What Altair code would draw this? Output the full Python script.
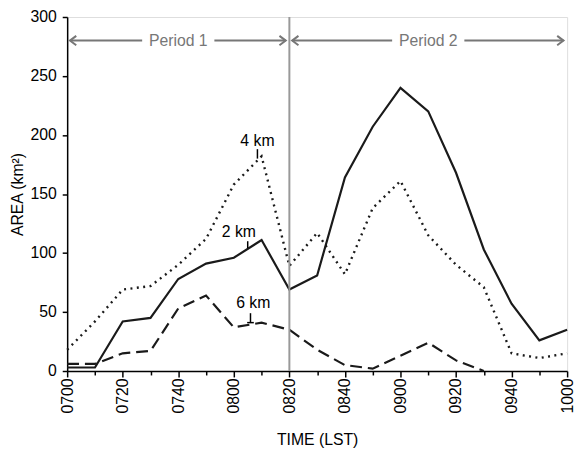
import altair as alt
import pandas as pd

# ---- data ----
TIMES = ["0700", "0710", "0720", "0730", "0740", "0750", "0800", "0810", "0820", "0830",
         "0840", "0850", "0900", "0910", "0920", "0930", "0940", "0950", "1000"]
AREA_2KM = [3, 3, 42, 45, 78, 91, 96, 111, 69, 81, 164, 207, 240, 220, 168, 103, 57, 26, 35]
AREA_4KM = [18, 42, 69, 72, 90, 112, 158, 182, 89, 117, 82, 138, 161, 115, 90, 71, 15, 11, 15]
AREA_6KM = [6, 6, 15, 17, 53, 64, 37, 41, 35, 18, 5, 2, 13, 24, 9, 0, None, None, None]
X_TICK_LABELS = ["0700", "0720", "0740", "0800", "0820", "0840", "0900", "0920", "0940", "1000"]
X_MINOR_LABELS = ["0710", "0730", "0750", "0810", "0830", "0850", "0910", "0930", "0950"]
Y_TICKS = [0, 50, 100, 150, 200, 250, 300]

PERIOD_NAMES = ["Period 1", "Period 2"]
PERIOD_START = ["0700", "0820"]
PERIOD_END = ["0820", "1000"]

LABEL_TEXT = ["4 km", "2 km", "6 km"]
LABEL_TIME = [68.5, 61.8, 67.0]      # minutes after 0700
LABEL_AREA = [195, 118, 58]
LEADER_TIME = [68.5, 65.0, 66.0]
LEADER_TOP = [188, 110, 49]
LEADER_BOTTOM = [180, 104, 41]

FONT = "Liberation Sans"


def to_min(t):
    return (int(t[:2]) - 7) * 60 + int(t[2:])


minutes = [to_min(t) for t in TIMES]

series_frames = {}
for name, vals in [("2 km", AREA_2KM), ("4 km", AREA_4KM), ("6 km", AREA_6KM)]:
    rows = [{"min": m, "area": v} for m, v in zip(minutes, vals) if v is not None]
    series_frames[name] = pd.DataFrame(rows)

x_scale = alt.Scale(domain=[0, 180], nice=False, zero=False)
y_scale = alt.Scale(domain=[0, 300], nice=False)

label_expr = "[" + ",".join("'%s'" % s for s in X_TICK_LABELS) + "][round(datum.value/20)]"

main_x_axis = alt.Axis(
    orient="bottom",
    values=[to_min(t) for t in X_TICK_LABELS], labelExpr=label_expr,
    labelAngle=270, labelAlign="right", labelBaseline="middle",
    tickSize=6, tickWidth=1.5, tickColor="black", domainColor="black", domainWidth=1.5,
    labelFont=FONT, labelFontSize=16, labelColor="black", labelPadding=1,
    title="TIME (LST)", titleFont=FONT, titleFontSize=16, titleFontWeight="normal",
    titleColor="black", titlePadding=19, grid=False,
)
minor_x_axis = alt.Axis(
    orient="bottom",
    values=[to_min(t) for t in X_MINOR_LABELS], labels=False, domain=False,
    tickSize=4, tickWidth=1.5, tickColor="black", title=None, grid=False,
)
y_axis = alt.Axis(
    orient="left",
    values=Y_TICKS, tickSize=5, tickWidth=1.5, tickColor="black",
    domainColor="black", domainWidth=1.5,
    labelFont=FONT, labelFontSize=16, labelColor="black", labelPadding=6,
    title="AREA (km²)", titleFont=FONT, titleFontSize=16, titleFontWeight="normal",
    titleColor="black", titlePadding=5, grid=False,
)

line_2 = alt.Chart(series_frames["2 km"]).mark_line(
    color="#1a1a1a", strokeWidth=2.2
).encode(
    x=alt.X("min:Q", scale=x_scale, axis=main_x_axis),
    y=alt.Y("area:Q", scale=y_scale, axis=y_axis),
)
line_4 = alt.Chart(series_frames["4 km"]).mark_line(
    color="#1a1a1a", strokeWidth=2.4, strokeDash=[2, 4.5]
).encode(
    x=alt.X("min:Q", scale=x_scale, axis=minor_x_axis),
    y=alt.Y("area:Q", scale=y_scale, axis=None),
)
line_6 = alt.Chart(series_frames["6 km"]).mark_line(
    color="#1a1a1a", strokeWidth=2.2, strokeDash=[12, 6]
).encode(
    x=alt.X("min:Q", scale=x_scale, axis=None),
    y=alt.Y("area:Q", scale=y_scale, axis=None),
)

# vertical divider between periods
divider_df = pd.DataFrame({"min": [to_min(PERIOD_END[0])], "lo": [0], "hi": [300]})
divider = alt.Chart(divider_df).mark_rule(color="#999999", strokeWidth=2).encode(
    x=alt.X("min:Q", scale=x_scale, axis=None),
    y=alt.Y("lo:Q", scale=y_scale, axis=None),
    y2="hi:Q",
)

# period arrows
ARROW_Y = 280
GAP = 13
TIP = 1.0
seg_rows, tip_l, tip_r, txt_rows = [], [], [], []
for name, s, e in zip(PERIOD_NAMES, PERIOD_START, PERIOD_END):
    a, b = to_min(s), to_min(e)
    mid = (a + b) / 2
    seg_rows.append({"x": a + TIP, "x2": mid - GAP, "y": ARROW_Y})
    seg_rows.append({"x": mid + GAP, "x2": b - TIP * 1.3, "y": ARROW_Y})
    tip_l.append({"x": a + TIP, "y": ARROW_Y})
    tip_r.append({"x": b - TIP * 1.3, "y": ARROW_Y})
    txt_rows.append({"x": mid, "y": ARROW_Y, "t": name})

arrow_color = "#777777"
segs = alt.Chart(pd.DataFrame(seg_rows)).mark_rule(color=arrow_color, strokeWidth=2).encode(
    x=alt.X("x:Q", scale=x_scale, axis=None), x2="x2:Q",
    y=alt.Y("y:Q", scale=y_scale, axis=None),
)
heads_l = alt.Chart(pd.DataFrame(tip_l)).mark_point(
    shape="M1.6,-1.2L0,0L1.6,1.2", size=64, filled=False, color=arrow_color,
    strokeWidth=2, opacity=1,
).encode(
    x=alt.X("x:Q", scale=x_scale, axis=None), y=alt.Y("y:Q", scale=y_scale, axis=None),
)
heads_r = alt.Chart(pd.DataFrame(tip_r)).mark_point(
    shape="M-1.6,-1.2L0,0L-1.6,1.2", size=64, filled=False, color=arrow_color,
    strokeWidth=2, opacity=1,
).encode(
    x=alt.X("x:Q", scale=x_scale, axis=None), y=alt.Y("y:Q", scale=y_scale, axis=None),
)
period_text = alt.Chart(pd.DataFrame(txt_rows)).mark_text(
    font=FONT, fontSize=16, color=arrow_color, baseline="middle", align="center"
).encode(
    x=alt.X("x:Q", scale=x_scale, axis=None), y=alt.Y("y:Q", scale=y_scale, axis=None),
    text="t:N",
)

# series labels with leader ticks
lab_df = pd.DataFrame({"x": LABEL_TIME, "y": LABEL_AREA, "t": LABEL_TEXT})
labels = alt.Chart(lab_df).mark_text(
    font=FONT, fontSize=16, color="black", baseline="middle", align="center"
).encode(
    x=alt.X("x:Q", scale=x_scale, axis=None), y=alt.Y("y:Q", scale=y_scale, axis=None),
    text="t:N",
)
lead_df = pd.DataFrame({"x": LEADER_TIME, "y": LEADER_TOP, "y2": LEADER_BOTTOM})
leaders = alt.Chart(lead_df).mark_rule(color="black", strokeWidth=1.5).encode(
    x=alt.X("x:Q", scale=x_scale, axis=None),
    y=alt.Y("y:Q", scale=y_scale, axis=None), y2="y2:Q",
)
foot_df = pd.DataFrame({"x": [LEADER_TIME[2] - 1.2], "x2": [LEADER_TIME[2] + 1.2],
                        "y": [LEADER_BOTTOM[2]]})
foot = alt.Chart(foot_df).mark_rule(color="black", strokeWidth=1.5).encode(
    x=alt.X("x:Q", scale=x_scale, axis=None), x2="x2:Q",
    y=alt.Y("y:Q", scale=y_scale, axis=None),
)

chart = alt.layer(
    line_2, line_4, line_6, divider, segs, heads_l, heads_r, period_text,
    labels, leaders, foot,
).resolve_axis(x="independent", y="independent").properties(
    width=507, height=359,
    autosize=alt.AutoSizeParams(type="none"),
    padding={"left": 60, "top": 6, "right": 9, "bottom": 79},
).configure_view(
    stroke="#555555", strokeWidth=1.5,
).configure(background="white")

chart.save("out.html", embed_options={"renderer": "svg", "actions": False})
